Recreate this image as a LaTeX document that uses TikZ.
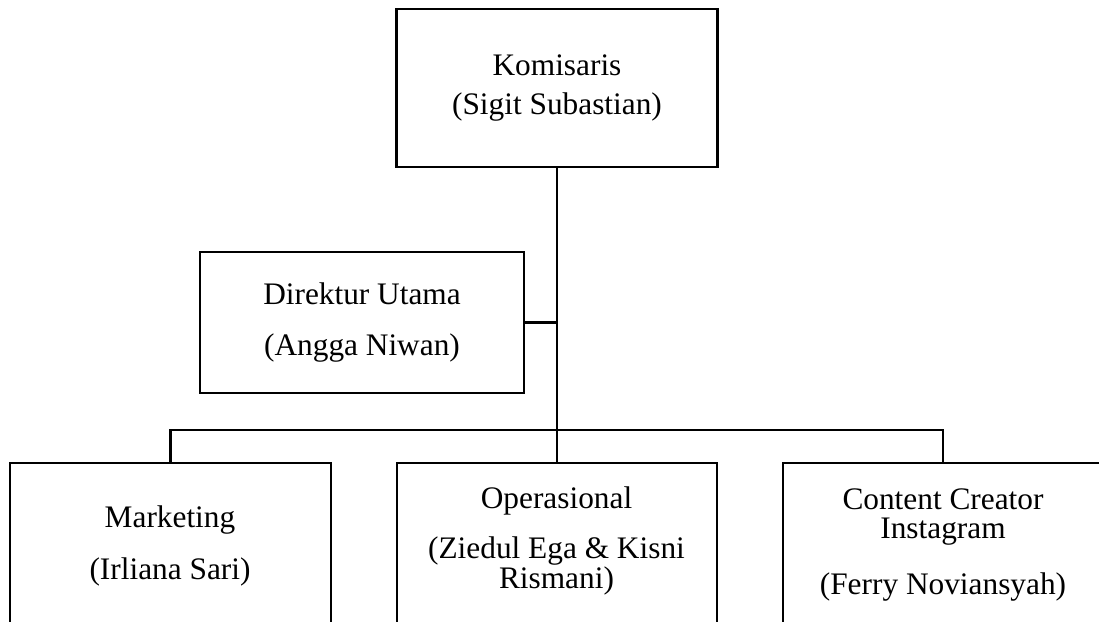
\documentclass[tikz,border=0pt]{standalone}
\usepackage{fontspec}
\setmainfont{Liberation Serif}
\usetikzlibrary{positioning}

\tikzset{
  orgbox/.style={draw, line width=2pt, inner sep=0pt},
  orgtext/.style={align=center, font=\fontsize{23.5}{20.25}\selectfont},
  link/.style={line width=2pt}
}

\begin{document}
\begin{tikzpicture}[x=0.75pt, y=-0.75pt]
    \useasboundingbox (0,0) rectangle (1099,621);
    \clip (0,0) rectangle (1099,621);

    % top boxes
    \node[orgbox, orgtext, minimum width=321*0.75pt, minimum height=158*0.75pt] (kom) at (557,88) {Komisaris\\[9pt](Sigit Subastian)};
    \node[orgbox, orgtext, minimum width=324*0.75pt, minimum height=141*0.75pt] (dir) at (362,322.5) {Direktur Utama\\[18pt](Angga Niwan)};

    % bottom boxes
    \node[orgbox, minimum width=321*0.75pt, minimum height=200*0.75pt] (mkt) at (170.5,563) {};
    \node[orgbox, minimum width=320*0.75pt, minimum height=200*0.75pt] (ops) at (557,563) {};
    \node[orgbox, minimum width=320*0.75pt, minimum height=200*0.75pt] (cc) at (943,563) {};

    \node[orgtext] (mkttext) at (170,546) {Marketing\\[17pt](Irliana Sari)};
    \node[orgtext] (opstext) at (556.5,541) {Operasional\\[15pt](Ziedul Ega \& Kisni\\Rismani)};
    \node[orgtext] (cctext) at (943,545) {Content Creator\\[1.5pt]Instagram\\[19pt](Ferry Noviansyah)};

    % lines
    \coordinate (split) at (557,430);
    \draw[link] (kom.south) -- (split);
    \draw[link] (dir.east) -- (dir.east -| kom.south);
    \draw[link] (mkt.north) |- (split) -| (cc.north);
    \draw[link] (split) -- (ops.north);
\end{tikzpicture}
\end{document}
